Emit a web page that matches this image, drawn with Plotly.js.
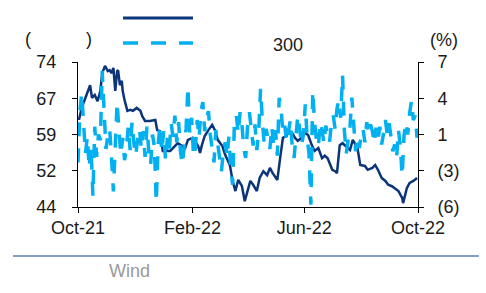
<!DOCTYPE html>
<html>
<head>
<meta charset="utf-8">
<script src="https://cdn.plot.ly/plotly-3.0.1.min.js"></script>
<style>html,body{margin:0;padding:0;background:#fff;}#chart{width:486px;height:293px;}</style>
</head>
<body>
<div id="chart"></div>
<script>
// Left axis series (solid navy)
const navyDates = ['2021-10-02','2021-10-05','2021-10-09','2021-10-12','2021-10-14','2021-10-16','2021-10-19','2021-10-22','2021-10-25','2021-10-27','2021-10-30',
'2021-11-02','2021-11-04','2021-11-06','2021-11-08','2021-11-10','2021-11-12','2021-11-13','2021-11-15','2021-11-17','2021-11-18','2021-11-20','2021-11-23','2021-11-26','2021-11-29',
'2021-12-03','2021-12-07','2021-12-09','2021-12-12','2021-12-17','2021-12-23','2021-12-25','2021-12-28','2021-12-31',
'2022-01-08','2022-01-13','2022-01-16','2022-01-21','2022-01-24','2022-01-27',
'2022-02-01','2022-02-07','2022-02-09','2022-02-11','2022-02-14','2022-02-18','2022-02-22','2022-02-25','2022-02-28',
'2022-03-05','2022-03-08','2022-03-13','2022-03-16','2022-03-19','2022-03-22','2022-03-26','2022-03-29',
'2022-04-01','2022-04-04','2022-04-07','2022-04-11','2022-04-14','2022-04-18','2022-04-22','2022-04-25','2022-04-28',
'2022-05-03','2022-05-06','2022-05-09','2022-05-13','2022-05-14','2022-05-19','2022-05-22','2022-05-25','2022-05-29',
'2022-06-02','2022-06-05','2022-06-09','2022-06-12','2022-06-16','2022-06-20','2022-06-23','2022-06-26',
'2022-07-01','2022-07-04','2022-07-06','2022-07-09','2022-07-12','2022-07-17','2022-07-20','2022-07-23','2022-07-28','2022-07-31',
'2022-08-05','2022-08-08','2022-08-13','2022-08-16','2022-08-19','2022-08-23','2022-08-27','2022-08-30',
'2022-09-03','2022-09-06','2022-09-10','2022-09-14','2022-09-15','2022-09-19','2022-09-22','2022-09-26','2022-09-30'];
const navyValues = [62.0,64.5,66.6,68.0,69.2,66.6,67.2,65.9,68.0,71.7,73.2,
72.1,72.3,71.7,72.8,68.0,72.1,72.3,69.2,70.1,68.0,66.1,63.9,64.1,63.9,
64.5,63.9,62.8,61.8,61.8,62.0,59.9,59.7,55.6,
55.6,56.6,57.2,56.6,56.2,57.9,
58.3,56.6,55.2,56.8,58.7,59.9,61.0,59.9,57.9,
56.6,54.8,52.7,49.4,47.3,49.6,48.3,45.2,
47.3,49.4,48.6,47.3,50.0,51.4,50.6,52.1,51.0,
49.6,54.1,58.3,58.7,59.9,59.3,58.3,57.7,58.3,
59.3,58.9,56.8,55.6,56.2,54.1,54.6,54.1,
51.7,51.4,51.0,56.8,57.2,56.2,55.8,57.9,56.2,52.7,
52.5,51.7,52.1,52.7,51.7,50.0,49.4,48.6,
48.3,47.9,47.3,45.9,44.8,47.9,49.0,49.4,50.0];

// Right axis series (dashed light blue), one value every two days from 2021-10-01
const blueStart = '2021-10-01';
const blueStepDays = 2;
const blueValues = [-2.0,2.5,4.2,1.0,-1.2,0.3,-2.5,-0.6,-5.0,1.2,
-1.5,0.5,0.0,6.2,3.0,-0.8,0.4,1.0,-1.6,-4.6,
-0.5,3.4,0.8,-1.3,0.2,-1.8,-0.6,1.2,-0.9,1.6,
-0.3,-1.4,0.1,1.0,-0.8,0.8,-1.5,1.2,-1.0,-2.2,
0.5,-0.6,-5.6,-0.4,1.3,-1.0,0.8,-1.8,0.2,-0.9,
1.5,0.3,2.2,-0.2,1.6,-1.0,-2.2,-0.5,1.0,4.8,
0.5,2.0,-1.5,-0.7,1.8,0.2,2.6,3.4,0.8,1.9,
2.6,0.5,-0.8,-2.0,0.9,-0.5,-1.6,-2.8,-1.0,-0.2,
-1.5,0.3,-2.6,-4.0,1.8,2.2,0.6,2.5,1.4,-0.8,
-1.6,1.2,2.5,1.0,-0.5,1.4,-0.9,0.8,4.6,1.6,
-0.4,1.0,0.2,-0.8,1.2,-0.4,0.9,-1.4,3.8,2.8,
0.6,1.3,-0.2,0.9,1.8,-0.6,-1.6,0.4,2.2,1.0,
-0.5,0.5,3.2,0.2,-1.2,-5.8,4.4,1.5,0.0,-0.6,
1.6,0.9,-0.3,1.3,0.5,-0.2,1.4,2.2,1.0,2.8,
3.6,2.0,5.8,0.8,-1.2,-0.2,1.2,3.8,1.0,-1.0,
0.3,-0.7,0.4,1.0,-0.2,1.6,0.6,1.4,0.8,-0.3,
1.1,0.0,1.2,-0.4,0.6,1.8,0.5,1.5,0.3,-1.0,
-0.4,-1.6,0.9,-0.5,-3.2,0.4,1.6,0.5,2.4,3.5,
1.8,2.2,0.2];

const xTickVals = ['2021-10-01','2022-02-01','2022-06-01','2022-10-01'];
const xTickText = ['Oct-21','Feb-22','Jun-22','Oct-22'];
const leftTickVals = [44,51.5,59,66.5,74];
const leftTickText = ['44','52','59','67','74'];
const rightTickVals = [-6,-2.75,0.5,3.75,7];
const rightTickText = ['(6)','(3)','1','4','7'];

const blueDates = blueValues.map((v,i)=>{
  const d = new Date(blueStart + 'T00:00:00Z');
  d.setUTCDate(d.getUTCDate() + i*blueStepDays);
  return d.toISOString().slice(0,10);
});

const NAVY = '#0b3479';
const SKY = '#00b0f0';
const FONT = 'Liberation Sans, Arial, sans-serif';

const traces = [
  {x: navyDates, y: navyValues, type:'scatter', mode:'lines', line:{color:NAVY, width:2.5}, yaxis:'y', showlegend:false, hoverinfo:'skip'},
  {x: blueDates, y: blueValues, type:'scatter', mode:'lines', line:{color:SKY, width:3.5, dash:'14px,12px'}, yaxis:'y2', showlegend:false, hoverinfo:'skip'}
];

const axisCommon = {showgrid:false, zeroline:false, showline:true, linecolor:'#000', linewidth:1, ticks:'outside', ticklen:5, tickcolor:'#000', tickwidth:1, tickfont:{family:FONT, size:18, color:'#1a1a1a'}, fixedrange:true};

const layout = {
  width:486, height:293,
  margin:{l:78, r:68, t:62, b:86, pad:0},
  paper_bgcolor:'#fff', plot_bgcolor:'#fff',
  font:{family:FONT, size:18, color:'#1a1a1a'},
  xaxis: Object.assign({}, axisCommon, {type:'date', range:['2021-10-01','2022-10-01'], tickmode:'array', tickvals:xTickVals, ticktext:xTickText, ticklabelstandoff:-1}),
  yaxis: Object.assign({}, axisCommon, {range:[44,74], tickmode:'array', tickvals:leftTickVals, ticktext:leftTickText, ticklabelstandoff:12}),
  yaxis2: Object.assign({}, axisCommon, {overlaying:'y', side:'right', range:[-6,7], tickmode:'array', tickvals:rightTickVals, ticktext:rightTickText, ticklabelstandoff:10}),
  showlegend:false,
  shapes:[
    {type:'line', xref:'paper', yref:'paper', x0:0.1324, x1:0.3382, y0:1.303, y1:1.303, line:{color:NAVY, width:3}},
    {type:'line', xref:'paper', yref:'paper', x0:0.1324, x1:0.3382, y0:1.131, y1:1.131, line:{color:SKY, width:3.5, dash:'15px,13px'}},
    {type:'line', xref:'paper', yref:'paper', x0:-0.191, x1:1.179, y0:-0.338, y1:-0.338, line:{color:'#5b7fb3', width:1.5}}
  ],
  annotations:[
    {xref:'paper', yref:'paper', x:-0.1456, y:1.162, text:'(', showarrow:false, xanchor:'center', yanchor:'middle', font:{family:FONT, size:18, color:'#1a1a1a'}},
    {xref:'paper', yref:'paper', x:0.0338, y:1.162, text:')', showarrow:false, xanchor:'center', yanchor:'middle', font:{family:FONT, size:18, color:'#1a1a1a'}},
    {xref:'paper', yref:'paper', x:0.619, y:1.117, text:'300', showarrow:false, xanchor:'center', yanchor:'middle', font:{family:FONT, size:18, color:'#1a1a1a'}},
    {xref:'paper', yref:'paper', x:1.0765, y:1.155, text:'(%)', showarrow:false, xanchor:'center', yanchor:'middle', font:{family:FONT, size:18, color:'#1a1a1a'}},
    {xref:'paper', yref:'paper', x:0.0853, y:-0.441, text:'Wind', showarrow:false, xanchor:'left', yanchor:'middle', font:{family:FONT, size:18, color:'#9a9a9a'}}
  ]
};

Plotly.newPlot('chart', traces, layout, {staticPlot:true, displayModeBar:false});
</script>
</body>
</html>
